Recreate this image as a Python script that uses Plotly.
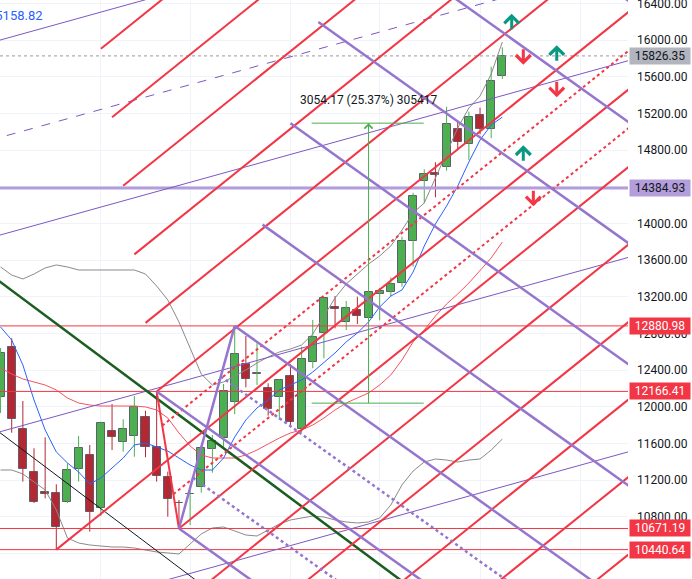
import numpy as np
import plotly.graph_objects as go

# ---------------- data (weekly bars, index -1 .. 44) ----------------
bars = list(range(-1, 45))
opens = [12109, 12648, 11753, 11284, 11066, 11055, 10963, 11317, 11473, 10898, 11735, 11618, 11683, 11891,
         11563, 11236, 10950, 11044, 11127, 11535, 11655, 12048, 12462, 12357, 12200, 12102, 12338, 11753,
         12484, 12800, 13084, 12927, 13055, 12971, 13226, 13248, 13346, 13804, 14462, 14546, 14611, 15026,
         14862, 15179, 15026, 15607]
highs = [12640, 12746, 12062, 11546, 11666, 11153, 11382, 11680, 11582, 11836, 12029, 11862, 12116, 11956,
         12166.41, 11291, 10982, 11083, 11582, 11691, 12247, 12880.98, 12771, 12692, 12255, 12299, 12466,
         12654, 12946, 13190, 13207, 13153, 13200, 13273, 13295, 13411, 13854, 14334, 14589, 14666, 15272,
         15116, 15218, 15261, 15709, 15920]
lows = [11931, 11716, 11182, 10949, 11000, 10440.64, 10949, 11182, 10636, 10807, 11527, 11509, 11454, 11448,
        11182, 10800, 10671.19, 10709, 11062, 11280, 11563, 11917, 12211, 12236, 11902, 11855, 11793, 11716,
        12419, 12528, 12855, 12836, 12902, 12927, 12942, 13200, 13309, 13527, 14219, 14284, 14574, 14800,
        14691, 14971, 14928, 15575]
closes = [12582, 11862, 11317, 10963, 11044, 10691, 11309, 11546, 10854, 11819, 11672, 11753, 11993, 11563,
          11244, 10990, 10946, 11050, 11546, 11626, 12171, 12571, 12299, 12362, 11971, 12291, 11830, 12517,
          12763, 13182, 13062, 13073, 12992, 13248, 13262, 13335, 13807, 14298, 14535, 14524, 15080, 14884,
          15163, 15026, 15556, 15826.35]

ema = [12869, 12727, 12455, 12073, 11746, 11506, 11386, 11287, 11156, 11222, 11331, 11440, 11582, 11604,
       11560, 11516, 11440, 11364, 11309, 11309, 11440, 11669, 11855, 11986, 12073, 12182, 12236, 12291,
       12378, 12487, 12586, 12706, 12804, 12924, 13087, 13207, 13273, 13469, 13753, 13993, 14189, 14407,
       14669, 14909, 15073, 15158.82]
bb_upper = [13524, 13436, 13393, 13447, 13513, 13546, 13524, 13491, 13491, 13491, 13491, 13491, 13491, 13447,
            13316, 13164, 12924, 12640, 12356, 12236, 12269, 12335, 12400, 12476, 12542, 12596, 12629, 12673,
            12793, 12989, 13186, 13338, 13447, 13556, 13644, 13753, 13927, 14113, 14222, 14495, 14778, 15040,
            15258, 15389, 15629, 15978]
bb_basis = [12422, 12356, 12302, 12269, 12236, 12182, 12095, 12040, 12018, 12007, 12007, 12007, 12007, 11997,
            11964, 11876, 11713, 11571, 11473, 11440, 11440, 11440, 11473, 11527, 11593, 11658, 11713, 11746,
            11800, 11876, 11964, 12040, 12095, 12149, 12236, 12346, 12509, 12706, 12836, 12989, 13120, 13229,
            13349, 13491, 13622, 13796]
bb_lower = [11309, 11309, 11266, 11178, 11091, 10873, 10567, 10513, 10491, 10480, 10469, 10469, 10458, 10436,
            10415, 10404, 10393, 10502, 10611, 10677, 10687, 10644, 10600, 10589, 10655, 10720, 10764, 10786,
            10807, 10796, 10764, 10742, 10731, 10742, 10786, 10927, 11146, 11298, 11396, 11429, 11418, 11396,
            11418, 11429, 11527, 11647]
ema_label = "15158.82"

# horizontal levels
hline_red = [12880.98, 12166.41, 10671.19, 10440.64]
hline_purple = [14384.93]
last_price = 15826.35

# pitchforks (pivot bar, pivot price)
red_fork_bars = [4, 13, 15]
red_fork_prices = [10440.64, 12166.41, 10671.19]
purple_fork_bars = [13, 15, 20]
purple_fork_prices = [12166.41, 10671.19, 12880.98]
fork_levels = [1, 2, 3, 4, 5, 6]
fork_half_levels = [0.5]

# thin purple parallel trend lines (bar, price) endpoints
trend_bars = [-2, 56]
trend_a = [15967, 17925]
trend_mid_dashed = [14905, 16863]
trend_b = [13840, 15798]
trend_c = [11694, 13652]
trend_d = [9573, 11531]

# descending lines
desc_bars = [-2, 40]
desc_green = [13449, 9644]
desc_black = [11803, 7956]

# price-range measurement
measure_bars = [26.9, 36.95]
measure_mid_bar = 32
measure_prices = [12038.5, 15092.67]
measure_text = "3054.17 (25.37%) 305417"

# signal arrows
up_bars = [44.84, 48.88, 45.88]
up_prices = [16200, 15855, 14764]
down_bars = [45.88, 48.88, 46.78]
down_prices = [15818, 15462, 14273]

grid_bars = [8, 16, 25, 33, 42, 51]
x_range = [-1.049, 55.27]
y_range = [10120, 16436.4]

# ---------------- styles ----------------
GREEN = "#4caf50"
RED = "#b22833"
LINE_RED = "#f23645"
PURPLE = "#9575cd"
PURPLE_THIN = "#7e57c2"
FONT = "Roboto"
X_END = 62

fig = go.Figure()


def seg_trace(segs, color, width, dash="solid", opacity=1.0):
    xs, ys = [], []
    for (x0, x1), (y0, y1) in segs:
        xs += [x0, x1, None]
        ys += [y0, y1, None]
    fig.add_trace(go.Scatter(x=xs, y=ys, mode="lines", line=dict(color=color, width=width, dash=dash),
                             opacity=opacity, hoverinfo="skip", showlegend=False))


# candles: wicks
for up in (True, False):
    xs, ys = [], []
    for b, o, h, l, c in zip(bars, opens, highs, lows, closes):
        if (c >= o) == up:
            xs += [b, b, None]
            ys += [l, h, None]
    fig.add_trace(go.Scatter(x=xs, y=ys, mode="lines", line=dict(color=GREEN if up else RED, width=1),
                             hoverinfo="skip", showlegend=False))
# candles: bodies
for up in (True, False):
    bx, base, hgt = [], [], []
    for b, o, c in zip(bars, opens, closes):
        if (c >= o) == up:
            bx.append(b)
            base.append(min(o, c))
            hgt.append(max(abs(c - o), 5))
    fig.add_trace(go.Bar(x=bx, y=hgt, base=base, width=0.72,
                         marker=dict(color=GREEN if up else RED, line=dict(color="#5d606b", width=1)),
                         hoverinfo="skip", showlegend=False))

# indicators
fig.add_trace(go.Scatter(x=bars, y=bb_upper, mode="lines", line=dict(color="#8a8a8a", width=1),
                         hoverinfo="skip", showlegend=False))
fig.add_trace(go.Scatter(x=bars, y=bb_lower, mode="lines", line=dict(color="#8a8a8a", width=1),
                         hoverinfo="skip", showlegend=False))
fig.add_trace(go.Scatter(x=bars, y=bb_basis, mode="lines", line=dict(color="#f7525f", width=1),
                         hoverinfo="skip", showlegend=False))
fig.add_trace(go.Scatter(x=bars, y=ema, mode="lines", line=dict(color="#2962ff", width=1),
                         hoverinfo="skip", showlegend=False))

# horizontal lines
seg_trace([((x_range[0], x_range[1]), (v, v)) for v in hline_red], LINE_RED, 1)
seg_trace([((x_range[0], x_range[1]), (v, v)) for v in hline_purple], "#b39ddb", 3)
seg_trace([((x_range[0], x_range[1]), (last_price, last_price))], "#9598a1", 1, dash="dot")

# thin purple trend lines
seg_trace([(tuple(trend_bars), tuple(t)) for t in (trend_a, trend_b, trend_c, trend_d)], PURPLE_THIN, 1)
seg_trace([(tuple(trend_bars), tuple(trend_mid_dashed))], PURPLE_THIN, 1, dash="dash")

# descending lines
seg_trace([(tuple(desc_bars), tuple(desc_green))], "#1b5e20", 2.5)
seg_trace([(tuple(desc_bars), tuple(desc_black))], "#131722", 1)


def pitchfork(bx, py):
    p1 = np.array([bx[0], py[0]], float)
    p2 = np.array([bx[1], py[1]], float)
    p3 = np.array([bx[2], py[2]], float)
    m = (p2 + p3) / 2
    slope = (m[1] - p1[1]) / (m[0] - p1[0])
    half = p3 - m

    def ray(st):
        return ((st[0], X_END), (st[1], st[1] + slope * (X_END - st[0])))

    solid = [ray(p1), ((p2[0], p3[0]), (p2[1], p3[1]))]
    for lv in fork_levels:
        for s in (-1, 1):
            solid.append(ray(m + s * lv * half))
    dotted = []
    for lv in fork_half_levels:
        for s in (-1, 1):
            dotted.append(ray(m + s * lv * half))
    return solid, dotted


rs, rd = pitchfork(red_fork_bars, red_fork_prices)
seg_trace(rs, LINE_RED, 2)
seg_trace(rd, LINE_RED, 2, dash="dot")
ps, pd_ = pitchfork(purple_fork_bars, purple_fork_prices)
seg_trace(ps, PURPLE, 2.5)
seg_trace(pd_, PURPLE, 2.5, dash="dot")

# measurement
seg_trace([(tuple(measure_bars), (measure_prices[0], measure_prices[0])),
           (tuple(measure_bars), (measure_prices[1], measure_prices[1])),
           ((measure_mid_bar, measure_mid_bar), tuple(measure_prices))], GREEN, 1)

annotations = []
annotations.append(dict(x=measure_mid_bar, y=measure_prices[1], xref="x", yref="y", showarrow=True,
                        ax=0, ay=7, arrowhead=4, arrowwidth=1, arrowsize=1.6, arrowcolor=GREEN, text=""))
annotations.append(dict(x=measure_mid_bar, y=measure_prices[1], xref="x", yref="y", text=measure_text,
                        showarrow=False, yanchor="bottom", yshift=14,
                        font=dict(family=FONT, size=12, color="#131722")))
annotations.append(dict(x=45 / 628, y=1 - 16 / 579, xref="paper", yref="paper", text=ema_label,
                        showarrow=False, xanchor="right", yanchor="middle",
                        font=dict(family=FONT, size=13, color="#2962ff")))

# signal arrows
for bx, py in zip(up_bars, up_prices):
    annotations.append(dict(x=bx, y=py, xref="x", yref="y", text="", showarrow=True, ax=0, ay=17,
                            yshift=8, arrowhead=4, arrowwidth=3, arrowsize=0.95, arrowcolor="#089981"))
for bx, py in zip(down_bars, down_prices):
    annotations.append(dict(x=bx, y=py, xref="x", yref="y", text="", showarrow=True, ax=0, ay=-17,
                            yshift=-8, arrowhead=4, arrowwidth=3, arrowsize=0.95, arrowcolor=LINE_RED))

# price-scale labels
def price_label(v, bg, fg):
    return dict(x=1, y=v, xref="paper", yref="y", text=f"{v:.2f}", showarrow=False, xanchor="left",
                yanchor="middle", bgcolor=bg, borderpad=1, width=58, align="center", xshift=1,
                font=dict(family=FONT, size=12, color=fg))


annotations.append(price_label(last_price, "#b2b5be", "#131722"))
for v in hline_purple:
    annotations.append(price_label(v, "#b39ddb", "#131722"))
for v in hline_red:
    annotations.append(price_label(v, LINE_RED, "#ffffff"))

fig.update_layout(
    width=692, height=579,
    margin=dict(l=0, r=64, t=0, b=0, pad=0),
    paper_bgcolor="white", plot_bgcolor="white",
    barmode="overlay", bargap=0,
    showlegend=False,
    annotations=annotations,
    xaxis=dict(range=x_range, tickvals=grid_bars, showticklabels=False, showgrid=True,
               gridcolor="#f0f3fa", zeroline=False, showline=False, ticks="", fixedrange=True,
               automargin=False),
    yaxis=dict(side="right", range=y_range, tickmode="linear", tick0=0, dtick=400, tickformat=".2f",
               showgrid=True, gridcolor="#f0f3fa", zeroline=False, showline=False, ticks="",
               ticklabelstandoff=8, ticklabeloverflow="allow",
               tickfont=dict(family=FONT, size=12, color="#131722"), fixedrange=True,
               automargin=False),
)

fig.write_html("out.html", config={"displayModeBar": False},
               post_script="document.body.style.margin='0';document.body.style.padding='0';"
                           "document.body.style.overflow='hidden';")
